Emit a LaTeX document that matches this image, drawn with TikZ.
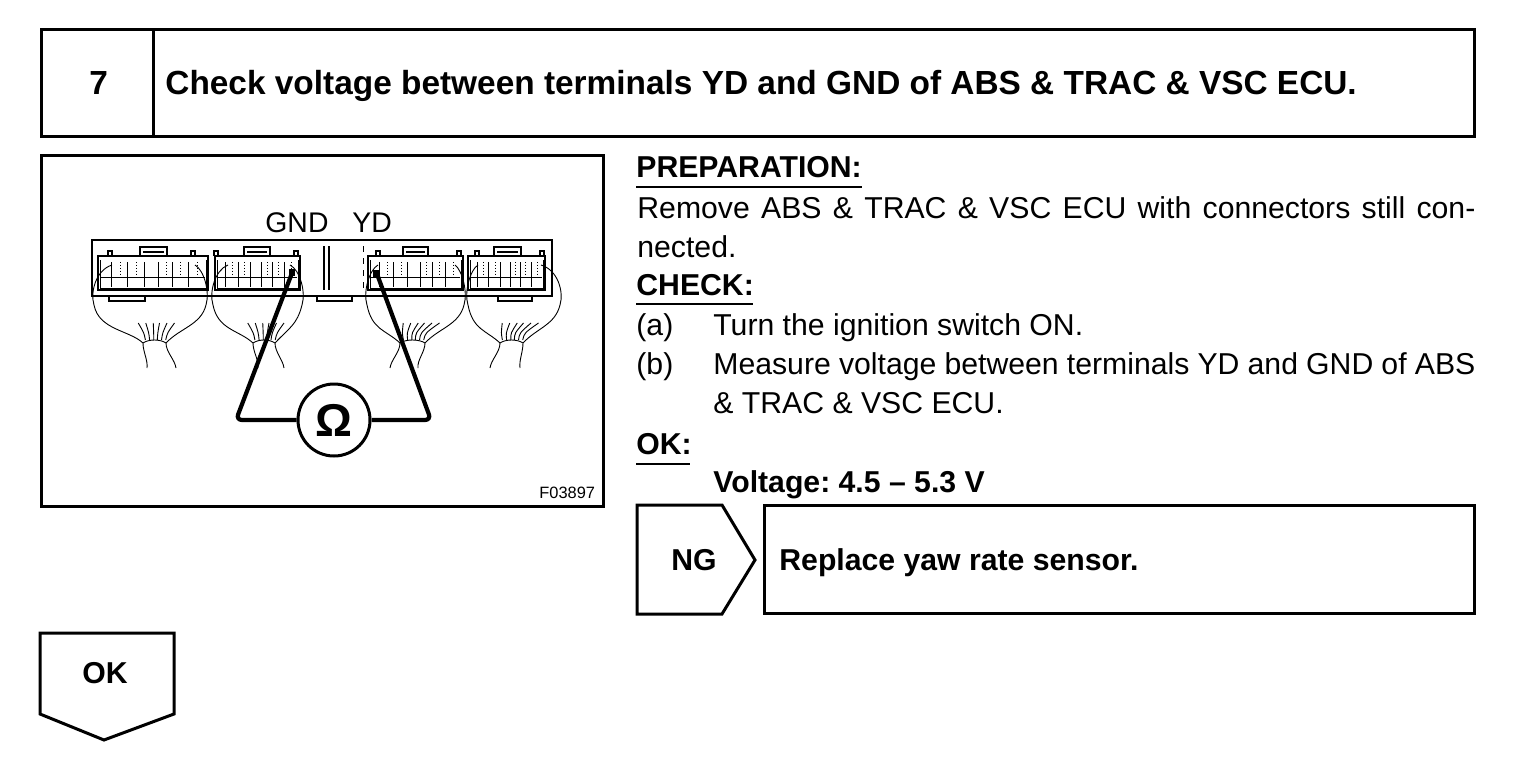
\documentclass[tikz,border=0pt]{standalone}
\usepackage{fontspec}
\setmainfont{Liberation Sans}
\frenchspacing
\usetikzlibrary{positioning}
\tikzset {
    style Frame/.style={
        draw=black,
        line width=1.5pt,
        rectangle, % Set the shape as a rectangle
        inner sep=0pt,
        outer sep=0pt,
        anchor=north west,
    },
    style Head/.style={
        font=\fontsize{16.7}{18}\selectfont\bfseries,
        inner sep=0pt,
        anchor=base west,
    },
    style Body/.style={
        font=\fontsize{15.1}{17}\selectfont,
        inner sep=0pt,
        anchor=base west,
    },
    style Bold/.style={
        font=\fontsize{15.1}{17}\selectfont\bfseries,
        inner sep=0pt,
        anchor=base west,
    },
    style Rule/.style={
        draw=black,
        line width=0.6pt,
    },
    style Plug/.style={
        draw=black,
        line width=0.9pt,
    },
    style Thin/.style={
        draw=black,
        line width=0.45pt,
    },
    style Lead/.style={
        draw=black,
        line width=2.1pt,
        rounded corners=3pt,
    },
}

\begin{document}
\begin{tikzpicture}[x=0.5pt,y=-0.5pt]
\useasboundingbox (0,0) rectangle (1536,760);

% title bar
\node[style Frame, minimum width=56pt, minimum height=53.5pt] at (41,29) (stepbox) {};
\node[style Frame, minimum width=660.5pt, minimum height=53.5pt] at (153,29) (titlebox) {};
\node[style Head] at (89,94) (stepno) {7};
\node[style Head] at (165,94) (title) {Check voltage between terminals YD and GND of ABS \& TRAC \& VSC ECU.};

% figure
\node[style Frame, minimum width=281pt, minimum height=175.5pt] at (41,155) (figbox) {};
\node[style Body, font=\fontsize{14.2}{16}\selectfont] at (265,232) (gnd) {GND};
\node[style Body, font=\fontsize{14.2}{16}\selectfont] at (352,232) (yd) {YD};
\node[style Body, font=\fontsize{8.2}{9}\selectfont] at (539,498) (figno) {F03897};

% housing
\draw[style Plug] (92,290) -- (92,240) -- (552,240) -- (552,296) -- (92,296) -- cycle;
\foreach \x in {324,329}
\draw[style Plug, line width=0.6pt] (\x,246) -- (\x,290);
\draw[style Thin, dashed] (363,246) -- (363,290);
\foreach \a/\b in {109/145,317/352,498/532}
\draw[style Plug] (\a,297) -- (\a,301) -- (\b,301) -- (\b,297);

% connectors
\foreach \a/\b/\ta/\tb/\pa/\pb in {98/208/140/167/110/193,215/300/244/270/216/296,368/463/403/428/378/459,468/545/494/521/477/542}{
\draw[style Plug] (\a,290) -- (\a,256) -- (\b,256) -- (\b,290) -- cycle;
\draw[style Thin] (\a+2,260) -- (\a+2,288) -- (\b-2,288) -- (\b-2,260);
\draw[style Plug] (\ta,256) -- (\ta,247) -- (\tb,247) -- (\tb,256);
\draw[style Plug, line width=0.6pt] (\ta+3,252) -- (\tb-3,252);
\draw[style Plug] (\pa-2,256) -- (\pa-2,251) -- (\pa+2,251) -- (\pa+2,256);
\draw[style Plug] (\pb-2,256) -- (\pb-2,251) -- (\pb+2,251) -- (\pb+2,256);
\draw[style Thin] (\a+3,277) -- (\b-3,277);
\foreach \f in {0.12,0.27,0.42,0.55,0.68,0.82}
\draw[style Thin] ({\a+\f*(\b-\a)},262) -- ({\a+\f*(\b-\a)},287);
\foreach \f in {0.2,0.35,0.62,0.75,0.9}
\draw[style Thin, densely dotted] ({\a+\f*(\b-\a)},262) -- ({\a+\f*(\b-\a)},276);
}

% harness
\foreach \l/\r/\tl/\tr/\nl/\nr/\el/\er/\lean in {93/207/112/195/143/166/147/176/0,212/303/228/290/253/275/258/284/0,366/465/378/455/400/425/390/418/7,467/561/478/541/500/523/490/520/7}{
\draw[style Thin] (\tl,265) .. controls (\l+3,270) and (\l-3,292) .. (\l+1,305)
  .. controls (\l+6,330) and (\nl-14,330) .. (\nl,343);
\draw[style Thin] (\tr,265) .. controls (\r-3,270) and (\r+3,292) .. (\r-1,305)
  .. controls (\r-6,325) and (\nr+14,328) .. (\nr,343);
\draw[style Thin] (\nl,343) .. controls (\nl+6,339) and (\nr-6,339) .. (\nr,343);
\draw[style Thin] (\nl,343) .. controls (\nl,352) and (\el+1,360) .. (\el,368);
\draw[style Thin] (\nr,343) .. controls (\nr,352) and (\er-1,360) .. (\er,368);
\foreach \d in {-13,-7,-1,4,10,16}
\draw[style Thin] ({(\nl+\nr)/2+\d*0.7},340) .. controls ({(\nl+\nr)/2+\d*0.8},333) .. ({(\nl+\nr)/2+\d*1.25+\lean},323);
}

% tester
\node[draw=black, line width=1.5pt, circle, minimum size=36pt, inner sep=0pt, font=\fontsize{23}{24}\selectfont\bfseries] at (334,420) (meter) {Ω};
\coordinate (gndpin) at (292,273);
\coordinate (ydpin) at (377,274);
\coordinate (gndbend) at (236,420);
\coordinate (ydbend) at (431,420);
\draw[style Lead] (meter.west) -- (gndbend) -- (gndpin);
\draw[style Lead] (meter.east) -- (ydbend) -- (ydpin);
\fill (gndpin) ++(-3,-4) rectangle ++(6,7);
\fill (ydpin) ++(-4,-4) rectangle ++(6,7);

% text column
\node[style Bold] at (636,177) (prep) {PREPARATION:};
\draw[style Rule] (636,187) -- (862,187);
\node[style Body] at (637,218) (line1) {\makebox[419pt][s]{Remove ABS \& TRAC \& VSC ECU with connectors still con-}};
\node[style Body] at (637,257) (line2) {nected.};
\node[style Bold] at (636,295) (check) {CHECK:};
\draw[style Rule] (636,304) -- (753,304);
\node[style Body] at (636,335) (stepa) {(a)};
\node[style Body] at (713,335) (linea) {Turn the ignition switch ON.};
\node[style Body] at (636,374) (stepb) {(b)};
\node[style Body] at (713,374) (lineb) {\makebox[381pt][s]{Measure voltage between terminals YD and GND of ABS}};
\node[style Body] at (713,413) (linec) {\& TRAC \& VSC ECU.};
\node[style Bold] at (636,454) (ok) {OK:};
\draw[style Rule] (636,464) -- (690,464);
\node[style Bold] at (713,492) (volt) {Voltage: 4.5 -- 5.3 V};

% NG branch
\draw[black, line width=1.5pt] (637,505) -- (722,505) -- (755,560) -- (722,614) -- (637,614) -- cycle;
\node[style Bold] at (671,570) (ng) {NG};
\node[style Frame, minimum width=355pt, minimum height=54pt] at (764,505) (ngbox) {};
\node[style Bold] at (779,570) (ngtext) {Replace yaw rate sensor.};

% OK branch
\draw[black, line width=1.5pt] (40,633) -- (174,633) -- (174,714) -- (104,740) -- (40,714) -- cycle;
\node[style Bold] at (82,683) (oktext) {OK};
\end{tikzpicture}
\end{document}
